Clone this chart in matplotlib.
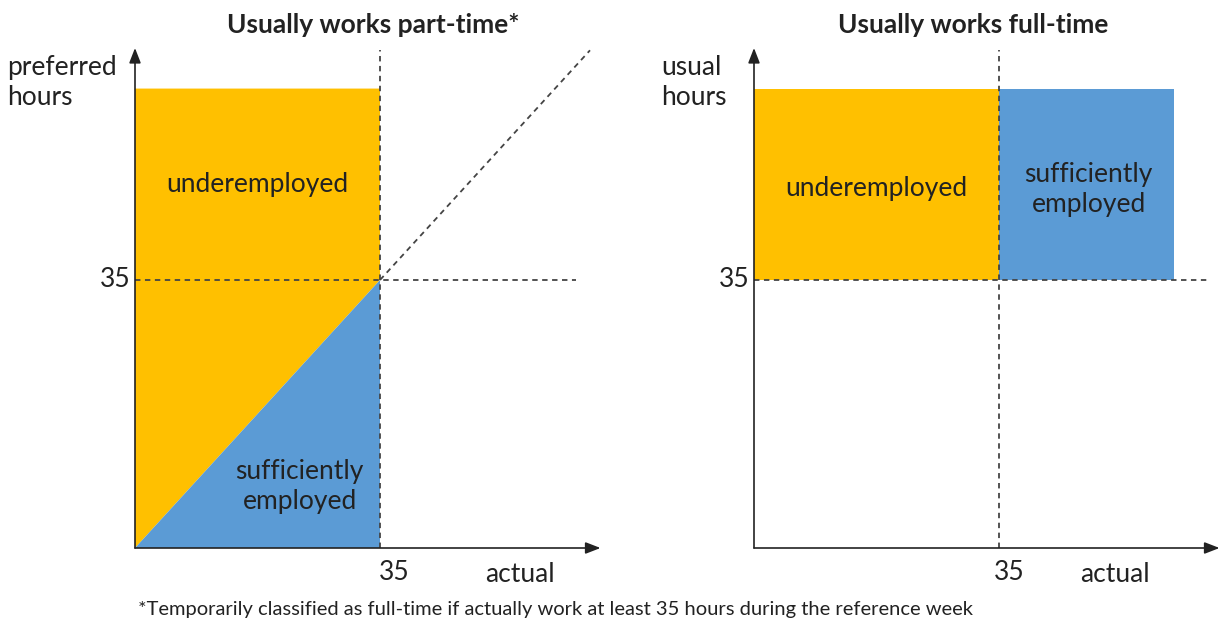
import matplotlib.pyplot as plt

plt.rcParams['font.family'] = ['Lato', 'DejaVu Sans']

# data
threshold = 35          # hours, part-time / full-time cut
max_hours = 60          # top of the shaded regions
panel_titles = ['Usually works part-time*', 'Usually works full-time']
y_labels = ['preferred\nhours', 'usual\nhours']
x_label = 'actual'
region_labels = ['underemployed', 'sufficiently\nemployed']
footnote = '*Temporarily classified as full-time if actually work at least 35 hours during the reference week'

orange = '#FFC000'
blue = '#5B9BD5'

fig = plt.figure(figsize=(12.25, 6.22), dpi=100)
W, H = 1225, 622
xmax, ymax = 67, 66


def make_ax(left_px):
    # 7 px per hour on x, 268/35 px per hour on y
    w = xmax * 7
    h = ymax * 268 / 35
    ax = fig.add_axes([left_px / W, (H - 548) / H, w / W, h / H])
    ax.set_xlim(0, xmax)
    ax.set_ylim(0, ymax)
    ax.axis('off')
    return ax


def draw_axes_arrows(ax):
    ax.annotate('', xy=(66.5, 0), xytext=(0, 0),
                arrowprops=dict(arrowstyle='-|>,head_length=0.9,head_width=0.35',
                                color='#222222', lw=1.2, shrinkA=0, shrinkB=0))
    ax.annotate('', xy=(0, 65.3), xytext=(0, 0),
                arrowprops=dict(arrowstyle='-|>,head_length=0.9,head_width=0.35',
                                color='#222222', lw=1.2, shrinkA=0, shrinkB=0))


dash = dict(color='#444444', lw=1.3, ls=(0, (3, 2.5)))
fs = 19
tc = '#222222'

# ---- left panel: part-time
ax1 = make_ax(135)
ax1.fill([0, threshold, threshold, 0], [0, threshold, max_hours, max_hours],
         color=orange, lw=0)
ax1.fill([0, threshold, threshold], [0, 0, threshold], color=blue, lw=0)
ax1.plot([threshold, threshold], [0, 65], **dash)
ax1.plot([0, 63], [threshold, threshold], **dash)
ax1.plot([threshold, 65], [threshold, 65], **dash)
draw_axes_arrows(ax1)
ax1.text(17.5, 47.5, region_labels[0], ha='center', va='center', fontsize=fs, color=tc)
ax1.text(23.5, 8, region_labels[1], ha='center', va='center', fontsize=fs,
         color=tc, linespacing=1.25)
ax1.text(-0.6, threshold, '35', ha='right', va='center', fontsize=fs, color=tc)
ax1.text(threshold + 2, -3.2, '35', ha='center', va='center', fontsize=fs, color=tc)
ax1.text(55, -3.5, x_label, ha='center', va='center', fontsize=fs, color=tc)
ax1.text(-18.2, 60.8, y_labels[0], ha='left', va='center', fontsize=fs,
         color=tc, linespacing=1.25)
ax1.text(34.1, 68.3, panel_titles[0], ha='center', va='center', fontsize=19,
         fontweight='bold', color=tc)

# ---- right panel: full-time
ax2 = make_ax(754)
ax2.fill([0, threshold, threshold, 0], [threshold, threshold, max_hours, max_hours],
         color=orange, lw=0)
ax2.fill([threshold, max_hours, max_hours, threshold],
         [threshold, threshold, max_hours, max_hours], color=blue, lw=0)
ax2.plot([threshold, threshold], [0, 65], **dash)
ax2.plot([0, 65], [threshold, threshold], **dash)
draw_axes_arrows(ax2)
ax2.text(17.5, 47, region_labels[0], ha='center', va='center', fontsize=fs, color=tc)
ax2.text(47.8, 46.8, region_labels[1], ha='center', va='center', fontsize=fs,
         color=tc, linespacing=1.25)
ax2.text(-0.6, threshold, '35', ha='right', va='center', fontsize=fs, color=tc)
ax2.text(threshold + 1.5, -3.2, '35', ha='center', va='center', fontsize=fs, color=tc)
ax2.text(51.5, -3.5, x_label, ha='center', va='center', fontsize=fs, color=tc)
ax2.text(-13.3, 60.8, y_labels[1], ha='left', va='center', fontsize=fs,
         color=tc, linespacing=1.25)
ax2.text(31.3, 68.3, panel_titles[1], ha='center', va='center', fontsize=19,
         fontweight='bold', color=tc)

fig.text(138 / W, 1 - 609 / H, footnote, ha='left', va='center', fontsize=14.5,
         color=tc)

fig.savefig('out.png', dpi=100)
